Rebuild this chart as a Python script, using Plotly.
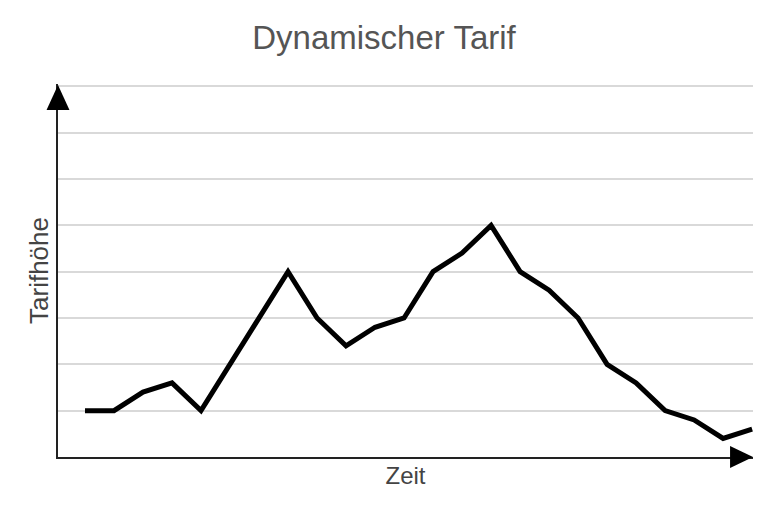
import plotly.graph_objects as go

# time steps and tariff level
zeit = list(range(24))
tarif = [1, 1, 1.4, 1.6, 1, 2, 3, 4, 3, 2.4, 2.8, 3,
         4, 4.4, 5, 4, 3.6, 3, 2, 1.6, 1, 0.8, 0.4, 0.6]
grid_vals = [1, 2, 3, 4, 5, 6, 7, 8]

fig = go.Figure()
fig.add_trace(go.Scatter(
    x=zeit, y=tarif, mode="lines",
    line=dict(color="black", width=5),
    hoverinfo="skip", showlegend=False,
))

axis_color = "#222222"
fig.update_layout(
    width=768, height=505,
    margin=dict(l=58, r=15, t=84, b=48),
    paper_bgcolor="white", plot_bgcolor="white",
    font=dict(family="Arial, Liberation Sans, sans-serif", color="#555555"),
    title=dict(text="Dynamischer Tarif", x=0.5, xanchor="center",
               y=0.926, yanchor="middle",
               font=dict(size=33, color="#555555")),
    xaxis=dict(range=[-0.93, 23.03], showgrid=False, zeroline=False,
               showticklabels=False, ticks="",
               showline=True, linecolor=axis_color, linewidth=2,
               title=dict(text="Zeit", standoff=9,
                          font=dict(size=24, color="#444444"))),
    yaxis=dict(range=[0, 8.05], tickvals=grid_vals, showticklabels=False,
               ticks="", showgrid=True, gridcolor="#d9d9d9", gridwidth=1.5,
               zeroline=False,
               showline=True, linecolor=axis_color, linewidth=2,
               title=dict(text="Tarifhöhe", standoff=0,
                          font=dict(size=26, color="#444444"))),
    shapes=[
        # arrow head on the y axis
        dict(type="path", xref="paper", yref="paper",
             path="M 0,0.997 L -0.0165,0.93 L 0.0165,0.93 Z",
             fillcolor="black", line=dict(width=0)),
        # arrow head on the x axis
        dict(type="path", xref="paper", yref="paper",
             path="M 1.0,0 L 0.967,0.0295 L 0.967,-0.0295 Z",
             fillcolor="black", line=dict(width=0)),
    ],
)

# drop the default page margin so the figure sits at the window's corner
fig.write_html("out.html", config={"displayModeBar": False},
               post_script="document.body.style.margin='0';")
